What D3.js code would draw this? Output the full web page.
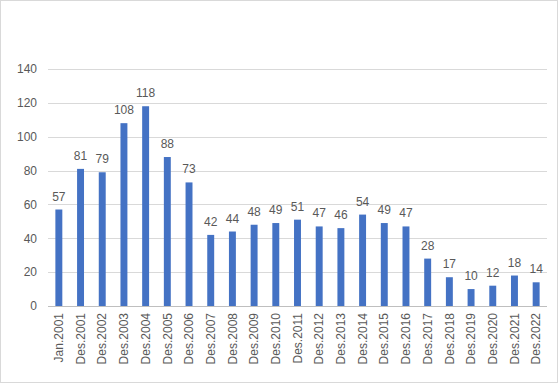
<!DOCTYPE html>
<html>
<head>
<meta charset="utf-8">
<style>
  body { margin: 0; background: #fff; }
  text { font-family: "Liberation Sans", Arial, sans-serif; fill: #595959; }
</style>
</head>
<body>
<script src="https://d3js.org/d3.v7.min.js"></script>
<script>
// chart data
const categories = ["Jan.2001", "Des.2001", "Des.2002", "Des.2003", "Des.2004", "Des.2005", "Des.2006",
  "Des.2007", "Des.2008", "Des.2009", "Des.2010", "Des.2011", "Des.2012", "Des.2013", "Des.2014",
  "Des.2015", "Des.2016", "Des.2017", "Des.2018", "Des.2019", "Des.2020", "Des.2021", "Des.2022"];
const values = [57, 81, 79, 108, 118, 88, 73, 42, 44, 48, 49, 51, 47, 46, 54, 49, 47, 28, 17, 10, 12, 18, 14];
const yTicks = [0, 20, 40, 60, 80, 100, 120, 140];

const W = 560, H = 386;
const margin = {top: 69, right: 13, bottom: 80, left: 48};
const width = W - margin.left - margin.right;
const height = H - margin.top - margin.bottom;

const svg = d3.select('body').append('svg').attr('width', W).attr('height', H);

// outer chart border
svg.append('rect').attr('x', 0.5).attr('y', 0.5).attr('width', 557).attr('height', 382)
  .attr('fill', 'none').attr('stroke', '#d9d9d9');

const g = svg.append('g').attr('transform', `translate(${margin.left},${margin.top})`);

const x = d3.scaleBand().domain(categories).range([0, width]).paddingInner(0.68).paddingOuter(0.34);
const y = d3.scaleLinear().domain([0, 140]).range([height, 0]);

// gridlines
g.selectAll('.grid').data(yTicks.filter(d => d > 0)).enter().append('line')
  .attr('x1', 0).attr('x2', width)
  .attr('y1', d => Math.round(y(d)) + 0.5).attr('y2', d => Math.round(y(d)) + 0.5)
  .attr('stroke', '#d9d9d9').attr('stroke-width', 1);

// y axis labels
const yAxis = g.append('g').call(d3.axisLeft(y).tickValues(yTicks).tickSize(0).tickPadding(11));
yAxis.select('.domain').remove();
yAxis.selectAll('text').style('font-size', '12px').attr('fill', '#595959')
  .style('font-family', '"Liberation Sans", Arial, sans-serif');

// bars
g.selectAll('.bar').data(values).enter().append('rect')
  .attr('x', (d, i) => x(categories[i]))
  .attr('width', x.bandwidth())
  .attr('y', d => y(d))
  .attr('height', d => height - y(d))
  .attr('fill', '#4472c4');

// value labels
g.selectAll('.lbl').data(values).enter().append('text')
  .attr('x', (d, i) => x(categories[i]) + x.bandwidth() / 2)
  .attr('y', d => y(d) - 9)
  .attr('text-anchor', 'middle')
  .style('font-size', '12px')
  .text(d => d);

// x axis
const xAxis = g.append('g').attr('transform', `translate(0,${height})`)
  .call(d3.axisBottom(x).tickSize(0).tickPadding(0));
xAxis.select('.domain').attr('stroke', '#bfbfbf').attr('d', `M0,0.5H${width}`);
xAxis.selectAll('text')
  .style('font-size', '12px').attr('fill', '#595959')
  .style('font-family', '"Liberation Sans", Arial, sans-serif')
  .attr('transform', 'rotate(-90)')
  .attr('text-anchor', 'end')
  .attr('dx', '-7px').attr('dy', '0.35em').attr('x', 0).attr('y', 0);
</script>
</body>
</html>
